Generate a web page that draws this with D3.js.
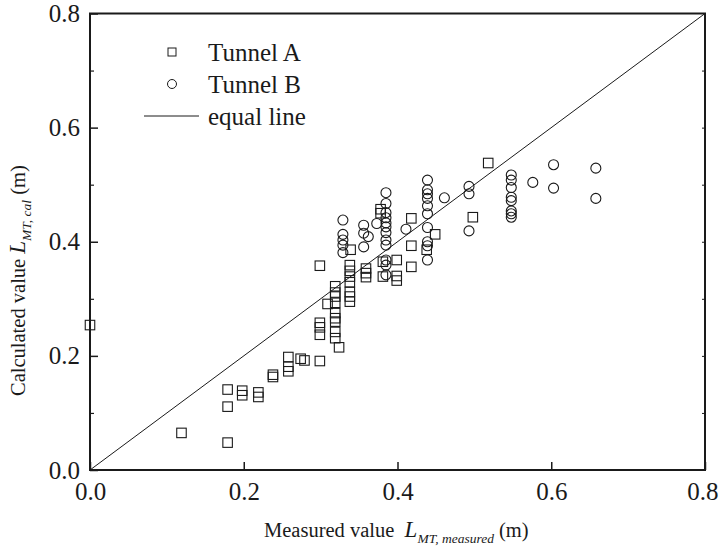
<!DOCTYPE html>
<html>
<head>
<meta charset="utf-8">
<script src="https://cdn.jsdelivr.net/npm/d3@7"></script>
<style>
  html, body { margin: 0; padding: 0; background: #fff; }
</style>
</head>
<body>
<svg id="chart" width="719" height="550"></svg>
<script>
// Tunnel A: measured vs calculated L_MT (m)
const tunnelA_measured = [
  0.000, 0.119, 0.179, 0.179, 0.179, 0.198, 0.198, 0.219, 0.219,
  0.238, 0.238, 0.258, 0.258, 0.258, 0.274, 0.279, 0.299,
  0.299, 0.299, 0.299, 0.299, 0.309,
  0.319, 0.319, 0.319, 0.319, 0.319, 0.319, 0.319, 0.319, 0.319, 0.324,
  0.339, 0.338, 0.338, 0.338, 0.338, 0.338, 0.338, 0.338,
  0.359, 0.359, 0.359, 0.378, 0.378, 0.381, 0.381,
  0.399, 0.399, 0.399, 0.418, 0.418, 0.418, 0.438, 0.449, 0.498, 0.518
];
const tunnelA_calculated = [
  0.254, 0.065, 0.141, 0.111, 0.048, 0.139, 0.131, 0.136, 0.128,
  0.167, 0.163, 0.198, 0.181, 0.173, 0.195, 0.192, 0.191,
  0.258, 0.250, 0.237, 0.358, 0.291,
  0.322, 0.311, 0.304, 0.293, 0.275, 0.266, 0.260, 0.242, 0.231, 0.215,
  0.386, 0.359, 0.349, 0.339, 0.329, 0.312, 0.304, 0.295,
  0.353, 0.345, 0.338, 0.457, 0.450, 0.365, 0.339,
  0.368, 0.340, 0.332, 0.441, 0.393, 0.356, 0.386, 0.413, 0.443, 0.538
];

// Tunnel B: measured vs calculated L_MT (m)
const tunnelB_measured = [
  0.329, 0.329, 0.329, 0.329, 0.329,
  0.356, 0.356, 0.356, 0.362, 0.373,
  0.385, 0.385, 0.385, 0.385, 0.385, 0.385, 0.385, 0.385, 0.385, 0.385, 0.385, 0.385,
  0.411,
  0.439, 0.439, 0.439, 0.439, 0.439, 0.439, 0.439, 0.439, 0.439, 0.439,
  0.461, 0.493, 0.493, 0.493,
  0.548, 0.548, 0.548, 0.548, 0.548, 0.548, 0.548, 0.548,
  0.576, 0.603, 0.603, 0.658, 0.658
];
const tunnelB_calculated = [
  0.438, 0.413, 0.403, 0.394, 0.381,
  0.429, 0.415, 0.391, 0.409, 0.432,
  0.486, 0.467, 0.451, 0.442, 0.433, 0.426, 0.416, 0.403, 0.394, 0.368, 0.359, 0.342,
  0.422,
  0.508, 0.491, 0.484, 0.476, 0.463, 0.449, 0.425, 0.400, 0.393, 0.368,
  0.477, 0.497, 0.484, 0.419,
  0.517, 0.508, 0.495, 0.478, 0.472, 0.454, 0.449, 0.443,
  0.504, 0.535, 0.494, 0.529, 0.476
];

// Axis ticks
const majorTicks = [0.0, 0.2, 0.4, 0.6, 0.8];
const minorTicks = [0.1, 0.3, 0.5, 0.7];
const allTicks = [0.1, 0.2, 0.3, 0.4, 0.5, 0.6, 0.7];
const equalLine = [0, 0.8];

const legendLabels = ["Tunnel A", "Tunnel B", "equal line"];

const serif = "'Liberation Serif', 'Times New Roman', Times, serif";
const svg = d3.select("#chart").style("font-family", serif);
const plotLeft = 90, plotRight = 705, plotTop = 13.5, plotBottom = 470;
const ink = "#1a1a1a";
const tickFont = 25;

const x = d3.scaleLinear().domain([0, 0.8]).range([plotLeft, plotRight]);
const y = d3.scaleLinear().domain([0, 0.8]).range([plotBottom, plotTop]);

const tickFmt = d3.format(".1f");

// Bottom axis: major ticks pointing inward
const xAxis = d3.axisBottom(x).tickValues(majorTicks).tickFormat(tickFmt)
  .tickSizeInner(-8).tickSizeOuter(0).tickPadding(12);
const gx = svg.append("g").attr("transform", `translate(0,${plotBottom})`).call(xAxis)
  .attr("font-family", null).style("font-family", serif);
gx.select(".domain").remove();
gx.selectAll("line").attr("stroke", ink).attr("stroke-width", 1.5);
gx.selectAll("text").attr("font-size", tickFont).attr("fill", ink);
// keep the last label inside the page edge
gx.selectAll(".tick").filter(d => d === 0.8).select("text")
  .attr("text-anchor", "end").attr("x", 718 - plotRight + 0);
gx.selectAll(".tick").filter(d => d === 0.8).select("text")
  .attr("x", 718 - x(0.8));

// Left axis: major ticks with labels, minor ticks without
const yAxis = d3.axisLeft(y).tickValues(majorTicks).tickFormat(tickFmt)
  .tickSizeInner(-8).tickSizeOuter(0).tickPadding(10);
const gy = svg.append("g").attr("transform", `translate(${plotLeft},0)`).call(yAxis)
  .attr("font-family", null).style("font-family", serif);
gy.select(".domain").remove();
gy.selectAll("line").attr("stroke", ink).attr("stroke-width", 1.5);
gy.selectAll("text").attr("font-size", tickFont).attr("fill", ink);

const yMinor = d3.axisLeft(y).tickValues(minorTicks).tickFormat("")
  .tickSizeInner(-4).tickSizeOuter(0);
const gym = svg.append("g").attr("transform", `translate(${plotLeft},0)`).call(yMinor);
gym.select(".domain").remove();
gym.selectAll("line").attr("stroke", ink).attr("stroke-width", 1.2);

// Right axis: short inward ticks
const yRight = d3.axisRight(y).tickValues(allTicks).tickFormat("")
  .tickSizeInner(-3).tickSizeOuter(0);
const gyr = svg.append("g").attr("transform", `translate(${plotRight},0)`).call(yRight);
gyr.select(".domain").remove();
gyr.selectAll("line").attr("stroke", ink).attr("stroke-width", 1);

// Frame
svg.append("rect")
  .attr("x", plotLeft).attr("y", plotTop)
  .attr("width", plotRight - plotLeft).attr("height", plotBottom - plotTop)
  .attr("fill", "none").attr("stroke", ink).attr("stroke-width", 2);

// Equal line y = x
svg.append("line")
  .attr("x1", x(equalLine[0])).attr("y1", y(equalLine[0]))
  .attr("x2", x(equalLine[1])).attr("y2", y(equalLine[1]))
  .attr("stroke", ink).attr("stroke-width", 1);

// Tunnel A squares
const sq = 9.5;
svg.append("g").selectAll("rect")
  .data(tunnelA_measured.map((m, i) => [m, tunnelA_calculated[i]]))
  .join("rect")
  .attr("x", d => x(d[0]) - sq / 2).attr("y", d => y(d[1]) - sq / 2)
  .attr("width", sq).attr("height", sq)
  .attr("fill", "none").attr("stroke", ink).attr("stroke-width", 1.1);

// Tunnel B circles
svg.append("g").selectAll("circle")
  .data(tunnelB_measured.map((m, i) => [m, tunnelB_calculated[i]]))
  .join("circle")
  .attr("cx", d => x(d[0])).attr("cy", d => y(d[1])).attr("r", 5)
  .attr("fill", "none").attr("stroke", ink).attr("stroke-width", 1.1);

// Legend
const lg = svg.append("g").attr("font-size", 25).attr("fill", ink);
lg.append("rect").attr("x", 168).attr("y", 48).attr("width", 8).attr("height", 8)
  .attr("fill", "none").attr("stroke", ink).attr("stroke-width", 1);
lg.append("circle").attr("cx", 172).attr("cy", 84).attr("r", 4.5)
  .attr("fill", "none").attr("stroke", ink).attr("stroke-width", 1);
lg.append("line").attr("x1", 144).attr("x2", 199).attr("y1", 116).attr("y2", 116)
  .attr("stroke", ink).attr("stroke-width", 1);
legendLabels.forEach((t, i) => {
  lg.append("text").attr("x", 208).attr("y", 61 + i * 32).text(t);
});

// X axis title
const xt = svg.append("text").attr("x", 264).attr("y", 537)
  .attr("font-size", 20.5).attr("fill", ink);
xt.append("tspan").text("Measured value\u00a0\u00a0");
xt.append("tspan").attr("font-style", "italic").attr("font-size", 23).text("L");
xt.append("tspan").attr("font-style", "italic").attr("font-size", 13.5).attr("dy", 6).text("MT, measured");
xt.append("tspan").attr("dy", -6).text(" (m)");

// Y axis title
const yt = svg.append("text")
  .attr("transform", "translate(25,396) rotate(-90)")
  .attr("font-size", 20.5).attr("fill", ink);
yt.append("tspan").text("Calculated value ");
yt.append("tspan").attr("font-style", "italic").attr("font-size", 23).text("L");
yt.append("tspan").attr("font-style", "italic").attr("font-size", 13.5).attr("dy", 6).text("MT, cal");
yt.append("tspan").attr("dy", -6).text(" (m)");
</script>
</body>
</html>
